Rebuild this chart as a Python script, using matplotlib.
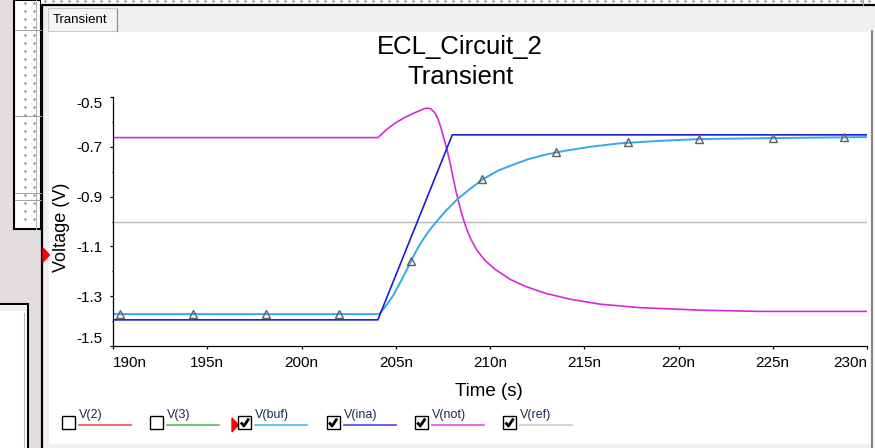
import matplotlib
matplotlib.use("Agg")
import matplotlib.pyplot as plt
from matplotlib.patches import Rectangle, Polygon
from matplotlib.ticker import MultipleLocator

plt.rcParams['font.family'] = ['Liberation Sans', 'DejaVu Sans']

# time axis in ns, voltage in V
ina_t = [190.0, 204.05, 208.0, 230.0]
ina_v = [-1.395, -1.395, -0.652, -0.652]

buf_t = [190.0, 204.11, 204.43, 204.85, 205.33, 205.81, 206.13, 206.45,
         206.82, 207.19, 207.67, 208.25, 208.89, 209.63, 210.42, 211.22,
         212.02, 212.92, 213.98, 215.31, 216.90, 219.02, 221.14, 225.01,
         229.95]
buf_v = [-1.372, -1.372, -1.344, -1.299, -1.232, -1.159, -1.112, -1.072,
         -1.032, -0.998, -0.956, -0.912, -0.872, -0.830, -0.796, -0.772,
         -0.750, -0.732, -0.716, -0.700, -0.686, -0.676, -0.669, -0.665,
         -0.661]

not_t = [190.0, 204.06, 204.38, 204.69, 205.07, 205.49, 205.92, 206.29,
         206.55, 206.71, 206.87, 207.08, 207.24, 207.40, 207.56, 207.72,
         207.88, 208.04, 208.20, 208.36, 208.51, 208.73, 208.99, 209.31,
         209.73, 210.27, 211.06, 211.86, 212.92, 214.24, 215.84, 217.96,
         221.14, 224.32, 229.95]
not_v = [-0.663, -0.663, -0.640, -0.620, -0.600, -0.582, -0.566, -0.554,
         -0.546, -0.545, -0.548, -0.564, -0.588, -0.624, -0.668, -0.712,
         -0.764, -0.824, -0.880, -0.928, -0.972, -1.024, -1.072, -1.116,
         -1.156, -1.192, -1.232, -1.260, -1.288, -1.312, -1.332, -1.346,
         -1.356, -1.361, -1.361]

ref_t = [190.0, 229.93]
ref_v = [-1.0, -1.0]

mark_t = [190.37, 194.24, 198.1, 201.97, 205.8, 209.6, 213.5, 217.3,
          221.1, 225.0, 228.8]
mark_v = [-1.372, -1.372, -1.372, -1.372, -1.159, -0.829, -0.720, -0.681,
          -0.669, -0.665, -0.662]

x_ticks = [190, 195, 200, 205, 210, 215, 220, 225, 230]
x_labels = ['190n', '195n', '200n', '205n', '210n', '215n', '220n', '225n', '230n']
y_ticks = [-1.5, -1.3, -1.1, -0.9, -0.7, -0.5]
y_labels = ['-1.5', '-1.3', '-1.1', '-0.9', '-0.7', '-0.5']

legend_names = ['V(2)', 'V(3)', 'V(buf)', 'V(ina)', 'V(not)', 'V(ref)']
legend_checked = [False, False, True, True, True, True]
legend_colors = ['#f05050', '#50c050', '#50b8f0', '#4848e8', '#e050e0', '#c8c8c8']

W, H = 875, 448
fig = plt.figure(figsize=(W / 100, H / 100), dpi=100)

# background / window frame, drawn in pixel coords
bg = fig.add_axes([0, 0, 1, 1])
bg.set_xlim(0, W)
bg.set_ylim(H, 0)
bg.axis('off')


def box(x0, y0, x1, y1, fc, ec='none', lw=0, z=1):
    bg.add_patch(Rectangle((x0, y0), x1 - x0, y1 - y0, facecolor=fc,
                           edgecolor=ec, linewidth=lw, zorder=z))


box(0, 0, W, H, '#e4dde0', z=0)

# left tool panel with dotted grid
box(14, 0, 41, 229, 'white', ec='black', lw=1.5)
bg.plot([36, 36], [0, 229], color='#b0b0b0', lw=0.7, zorder=2)
for yy in [30, 116, 193, 200]:
    bg.plot([15, 41], [yy, yy], color='#a0a0a0', lw=0.7, zorder=2)
dot_y = list(range(3, 226, 8))
bg.scatter([25] * len(dot_y), dot_y, s=0.6, color='#909090', zorder=2)
bg.scatter([34] * len(dot_y), dot_y, s=0.6, color='#909090', zorder=2)

# lower-left window
box(-2, 304, 28, H + 2, 'white', ec='black', lw=1.5)
box(0, 305.5, 27, 311, '#f0f0f0', z=2)
bg.plot([24, 24], [313, H], color='#b8b8b8', lw=0.8, zorder=2)

# top dotted strip
box(41, 0, W, 5, 'white', z=1)
dot_x = list(range(45, W, 8))
bg.scatter(dot_x, [1.5] * len(dot_x), s=0.6, color='#909090', zorder=2)
bg.plot([863, 863], [0, 5], color='#a0a0a0', lw=0.8, zorder=2)

# main window
box(42, 5, W + 2, H + 2, '#f0f0f0', ec='black', lw=1.6, z=1)
box(49, 32, 870, 444, 'white', z=2)
bg.plot([872, 872], [31, H], color='#707070', lw=1.2, zorder=3)
box(48, 8, 117, 31, '#f4f4f4', ec='#c8c8c8', lw=0.7, z=2)
bg.plot([117, 117], [9, 31], color='#909090', lw=0.9, zorder=3)
bg.text(53, 20, 'Transient', fontsize=9.5, ha='left', va='center', zorder=4)

# red markers
bg.add_patch(Polygon([(43, 248), (49.5, 255), (43, 262)], closed=True,
                     color='red', zorder=4))
bg.add_patch(Polygon([(232, 418), (238.5, 425), (232, 432)], closed=True,
                     color='red', zorder=4))

# titles and axis labels
bg.text(460, 47, 'ECL_Circuit_2', fontsize=18.5, ha='center', va='center', zorder=4)
bg.text(461, 77, 'Transient', fontsize=18.5, ha='center', va='center', zorder=4)
bg.text(489, 391, 'Time (s)', fontsize=13.5, ha='center', va='center', zorder=4)
bg.text(62, 227, 'Voltage (V)', fontsize=13, ha='center', va='center',
        rotation=90, zorder=4)

# legend with checkboxes
for i, name in enumerate(legend_names):
    bx = 62 + i * 88.2
    by = 416
    box(bx, by, bx + 13, by + 13, 'white', ec='black', lw=1.0, z=4)
    if legend_checked[i]:
        bg.plot([bx + 2.5, bx + 5.5, bx + 10.5], [by + 6.5, by + 10, by + 2.5],
                color='black', lw=2.0, zorder=5, solid_capstyle='butt')
    bg.plot([bx + 17, bx + 69], [425.3, 425.3], color=legend_colors[i],
            lw=1.2, zorder=4)
    bg.text(bx + 17, 421, name, fontsize=9, ha='left', va='bottom',
            color='#1a2a50', zorder=4)

# plot axes
ax = fig.add_axes([113 / W, (H - 346) / H, 754 / W, 249 / H])
ax.set_facecolor('none')
ax.set_zorder(5)

ax.plot(ref_t, ref_v, color='#b8b8b8', lw=1.0)
ax.plot(not_t, not_v, color='#d828d8', lw=1.2)
ax.plot(buf_t, buf_v, color='#33aae8', lw=1.4)
ax.plot(ina_t, ina_v, color='#1c1cd8', lw=1.2)
ax.plot(mark_t, mark_v, linestyle='none', marker='^', markersize=6,
        markerfacecolor='none', markeredgecolor='#606060', markeredgewidth=1.0)

ax.set_xlim(190, 230)
ax.set_ylim(-1.5, -0.5)
ax.spines['top'].set_visible(False)
ax.spines['right'].set_visible(False)
ax.spines['left'].set_linewidth(0.9)
ax.spines['bottom'].set_linewidth(0.9)

ax.set_xticks(x_ticks)
ax.set_xticklabels(x_labels)
ax.set_yticks(y_ticks)
ax.set_yticklabels(y_labels)
ax.yaxis.set_minor_locator(MultipleLocator(0.1))
ax.tick_params(axis='both', which='major', length=2.5, width=0.9,
               labelsize=11, pad=5, direction='out')
ax.tick_params(axis='y', which='minor', length=1, width=0.9)

xl = ax.get_xticklabels()
xl[0].set_ha('left')
xl[-1].set_ha('right')
yl = ax.get_yticklabels()
yl[0].set_va('bottom')
yl[-1].set_va('top')

fig.savefig('out.png', dpi=100)
